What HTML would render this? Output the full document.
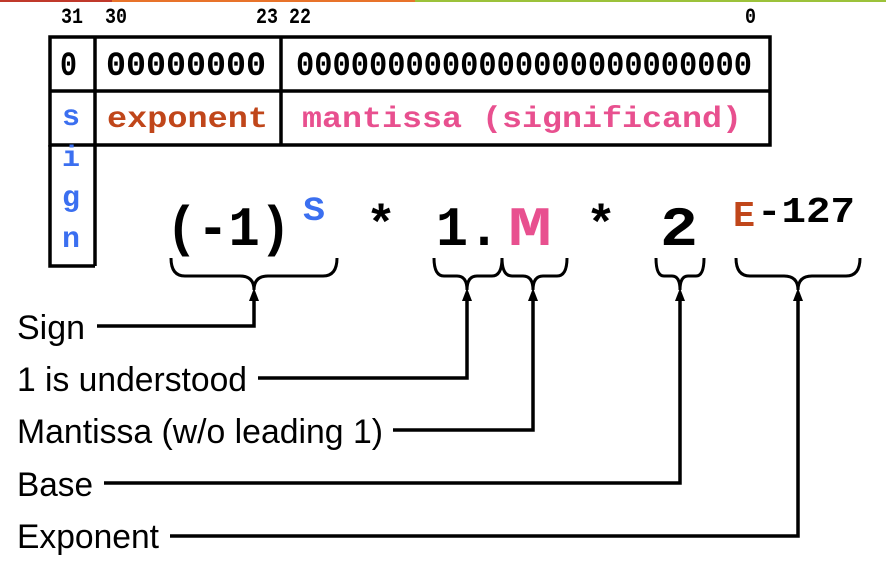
<!DOCTYPE html>
<html><head><meta charset="utf-8"><style>
html,body{margin:0;padding:0;background:#fff;width:886px;height:562px;overflow:hidden}
</style></head><body>
<svg width="886" height="562" viewBox="0 0 886 562" xmlns="http://www.w3.org/2000/svg">
<rect x="0" y="0" width="112" height="2" fill="#c0392b"/>
<rect x="112" y="0" width="303" height="2" fill="#e8732a"/>
<rect x="415" y="0" width="471" height="2" fill="#9cc23a"/>
<g font-family="Liberation Mono, monospace" font-weight="bold" font-size="22">
<text x="61" y="23" textLength="22" lengthAdjust="spacingAndGlyphs">31</text>
<text x="105" y="23" textLength="22" lengthAdjust="spacingAndGlyphs">30</text>
<text x="256" y="23" textLength="22" lengthAdjust="spacingAndGlyphs">23</text>
<text x="289" y="23" textLength="22" lengthAdjust="spacingAndGlyphs">22</text>
<text x="745" y="23" textLength="11" lengthAdjust="spacingAndGlyphs">0</text>
</g>
<g fill="none" stroke="#000" stroke-width="3.5">
<rect x="50" y="37" width="720" height="108"/>
<line x1="50" y1="91" x2="770" y2="91"/>
<line x1="95" y1="37" x2="95" y2="266"/>
<line x1="281" y1="37" x2="281" y2="145"/>
<polyline points="50,145 50,266 95,266"/>
</g>
<g font-family="Liberation Mono, monospace" font-weight="bold" font-size="34">
<text x="60" y="75" textLength="17" lengthAdjust="spacingAndGlyphs">0</text>
<text x="106" y="75" textLength="160" lengthAdjust="spacingAndGlyphs">00000000</text>
<text x="296" y="75" textLength="456" lengthAdjust="spacingAndGlyphs">0000000000000000000000000</text>
<text x="107" y="127" font-size="30" fill="#c0461a" textLength="161" lengthAdjust="spacingAndGlyphs">exponent</text>
<text x="302" y="127" font-size="30" fill="#e8508f" textLength="440" lengthAdjust="spacingAndGlyphs">mantissa (significand)</text>
<g fill="#3b6ff0" font-size="30">
<text x="62" y="125">s</text><text x="62" y="166">i</text><text x="62" y="206">g</text><text x="62" y="247">n</text>
</g>
<text x="166" y="245" font-size="56" textLength="125" lengthAdjust="spacingAndGlyphs">(-1)</text>
<text x="303" y="220" font-size="34" fill="#3b6ff0" textLength="22" lengthAdjust="spacingAndGlyphs">S</text>
<text x="366" y="240" font-size="50">*</text>
<text x="436" y="245" font-size="56" textLength="64" lengthAdjust="spacingAndGlyphs">1.</text>
<text x="508" y="245" font-size="56" fill="#e8508f" textLength="44" lengthAdjust="spacingAndGlyphs">M</text>
<text x="586" y="240" font-size="50">*</text>
<text x="660" y="245" font-size="56" textLength="38" lengthAdjust="spacingAndGlyphs">2</text>
<text x="733" y="226" font-size="36" fill="#c0461a" textLength="22" lengthAdjust="spacingAndGlyphs">E</text>
<text x="757" y="222" font-size="36" textLength="98" lengthAdjust="spacingAndGlyphs">-127</text>
</g>
<g fill="none" stroke="#000" stroke-width="3">
<path d="M171,258 q0,18 14,18 h55 q14,0 14,14 q0,-14 14,-14 h55 q14,0 14,-18"/>
<path d="M434,258 q0,18 10,18 h13 q10,0 10,14 q0,-14 10,-14 h15 q10,0 10,-18"/>
<path d="M502,258 q0,18 10,18 h11 q10,0 10,14 q0,-14 10,-14 h14 q10,0 10,-18"/>
<path d="M656,258 q0,18 8,18 h8 q8,0 8,14 q0,-14 8,-14 h8 q8,0 8,-18"/>
<path d="M736,258 q0,18 14,18 h34 q14,0 14,14 q0,-14 14,-14 h34 q14,0 14,-18"/>
</g>
<g fill="none" stroke="#000" stroke-width="3.5">
<polyline points="97,326 254,326 254,298"/>
<polyline points="258,378 467,378 467,298"/>
<polyline points="393,430 533,430 533,298"/>
<polyline points="104,483 680,483 680,298"/>
<polyline points="170,536 798,536 798,298"/>
</g>
<g fill="#000">
<polygon points="254,288 249,301 259,301"/>
<polygon points="467,288 462,301 472,301"/>
<polygon points="533,288 528,301 538,301"/>
<polygon points="680,288 675,301 685,301"/>
<polygon points="798,288 793,301 803,301"/>
</g>
<g font-family="Liberation Sans, Arial, sans-serif" font-size="34" fill="#000">
<text x="17" y="339" textLength="68" lengthAdjust="spacingAndGlyphs">Sign</text>
<text x="17" y="391" textLength="230" lengthAdjust="spacingAndGlyphs">1 is understood</text>
<text x="17" y="443" textLength="366" lengthAdjust="spacingAndGlyphs">Mantissa (w/o leading 1)</text>
<text x="17" y="496" textLength="76" lengthAdjust="spacingAndGlyphs">Base</text>
<text x="17" y="548" textLength="142" lengthAdjust="spacingAndGlyphs">Exponent</text>
</g>
</svg>
</body></html>
